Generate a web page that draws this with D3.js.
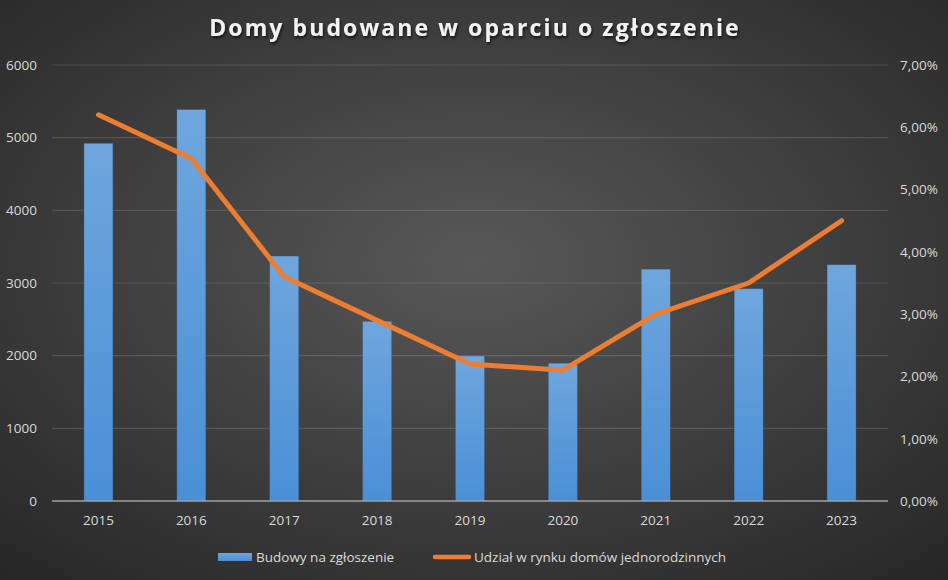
<html>
<head>
  <meta charset="utf-8">
  <script src="https://d3js.org/d3.v7.min.js"></script>
  <style>
    body { margin: 0; background: #333; }
    text { font-family: "Open Sans", "DejaVu Sans", sans-serif; }
  </style>
  <script>
    var years = ["2015", "2016", "2017", "2018", "2019", "2020", "2021", "2022", "2023"];
    var builds = [4920, 5385, 3370, 2470, 1995, 1895, 3190, 2920, 3250];
    var share = [6.2, 5.5, 3.6, 2.9, 2.2, 2.1, 3.0, 3.5, 4.5];
    var leftTicks = [0, 1000, 2000, 3000, 4000, 5000, 6000];
    var rightTicks = [0, 1, 2, 3, 4, 5, 6, 7];
    var title = "Domy budowane w oparciu o zgłoszenie";
    var legendNames = ["Budowy na zgłoszenie", "Udział w rynku domów jednorodzinnych"];

    function drawChart() {
      var W = 948, H = 580;
      var m = { left: 52, right: 60, top: 65, bottom: 79 };
      var svg = d3.select("#chart").attr("width", W).attr("height", H);
      var defs = svg.append("defs");

      var bg = defs.append("radialGradient").attr("id", "bg")
        .attr("cx", "50%").attr("cy", "45%").attr("r", "75%");
      bg.append("stop").attr("offset", "0%").attr("stop-color", "#585858");
      bg.append("stop").attr("offset", "100%").attr("stop-color", "#262626");

      var bar = defs.append("linearGradient").attr("id", "bar")
        .attr("x1", 0).attr("y1", 0).attr("x2", 0).attr("y2", 1);
      bar.append("stop").attr("offset", "0%").attr("stop-color", "#6fa6dd");
      bar.append("stop").attr("offset", "100%").attr("stop-color", "#4a8fd6");

      var shadow = defs.append("filter").attr("id", "ts");
      shadow.append("feDropShadow").attr("dx", 1).attr("dy", 2)
        .attr("stdDeviation", 1.5).attr("flood-color", "#000").attr("flood-opacity", 0.7);

      svg.append("rect").attr("width", W).attr("height", H).attr("fill", "url(#bg)");

      var x = d3.scaleBand().domain(years).range([m.left, W - m.right]);
      var yL = d3.scaleLinear().domain([0, 6000]).range([H - m.bottom, m.top]);
      var yR = d3.scaleLinear().domain([0, 7]).range([H - m.bottom, m.top]);

      // gridlines
      svg.append("g").selectAll("line").data(leftTicks.slice(1)).enter()
        .append("line")
        .attr("x1", m.left).attr("x2", W - m.right)
        .attr("y1", d => yL(d)).attr("y2", d => yL(d))
        .attr("stroke", "#ffffff").attr("stroke-opacity", 0.13).attr("stroke-width", 1.2);

      // left axis
      var axL = svg.append("g").attr("transform", "translate(" + m.left + ",0)")
        .call(d3.axisLeft(yL).tickValues(leftTicks).tickSize(0).tickPadding(15).tickFormat(d3.format("d")));
      axL.select(".domain").remove();

      // right axis
      var fmt = d => d3.format(".2f")(d).replace(".", ",") + "%";
      var axR = svg.append("g").attr("transform", "translate(" + (W - m.right) + ",0)")
        .call(d3.axisRight(yR).tickValues(rightTicks).tickSize(0).tickPadding(12).tickFormat(fmt));
      axR.select(".domain").remove();

      // bars
      var bw = x.bandwidth() * 0.31;
      svg.append("g").selectAll("rect").data(builds).enter()
        .append("rect")
        .attr("x", (d, i) => x(years[i]) + x.bandwidth() / 2 - bw / 2)
        .attr("width", bw)
        .attr("y", d => yL(d))
        .attr("height", d => yL(0) - yL(d))
        .attr("fill", "url(#bar)")
        .attr("stroke", "#3f6f9f").attr("stroke-width", 0.6).attr("stroke-opacity", 0.5);

      // baseline
      svg.append("line")
        .attr("x1", m.left).attr("x2", W - m.right)
        .attr("y1", yL(0)).attr("y2", yL(0))
        .attr("stroke", "#a0a0a0").attr("stroke-width", 1.5);

      // bottom axis
      var axB = svg.append("g").attr("transform", "translate(0," + yL(0) + ")")
        .call(d3.axisBottom(x).tickSize(0).tickPadding(14));
      axB.select(".domain").remove();

      svg.selectAll(".tick text").attr("fill", "#d9d9d9").attr("font-size", "13.5px");

      // line
      var line = d3.line()
        .x((d, i) => x(years[i]) + x.bandwidth() / 2)
        .y(d => yR(d));
      svg.append("path").attr("d", line(share))
        .attr("fill", "none").attr("stroke", "#ed7d31").attr("stroke-width", 5)
        .attr("stroke-linecap", "round").attr("stroke-linejoin", "round");

      // title
      svg.append("text").attr("x", W / 2 + 1).attr("y", 36)
        .attr("text-anchor", "middle").attr("fill", "#f2f2f2")
        .attr("font-size", "23px").attr("font-weight", "bold")
        .attr("letter-spacing", "2.1px").attr("filter", "url(#ts)")
        .text(title);

      // legend
      var lg = svg.append("g");
      lg.append("rect").attr("x", 218).attr("y", 553).attr("width", 34).attr("height", 8)
        .attr("fill", "url(#bar)");
      lg.append("text").attr("x", 256).attr("y", 562).attr("fill", "#d9d9d9")
        .attr("font-size", "13.5px").text(legendNames[0]);
      lg.append("line").attr("x1", 435).attr("x2", 469).attr("y1", 557).attr("y2", 557)
        .attr("stroke", "#ed7d31").attr("stroke-width", 4.5).attr("stroke-linecap", "round");
      lg.append("text").attr("x", 474).attr("y", 562).attr("fill", "#d9d9d9")
        .attr("font-size", "13.5px").text(legendNames[1]);
    }
  </script>
</head>
<body onload="drawChart()">
  <svg id="chart"></svg>
</body>
</html>
